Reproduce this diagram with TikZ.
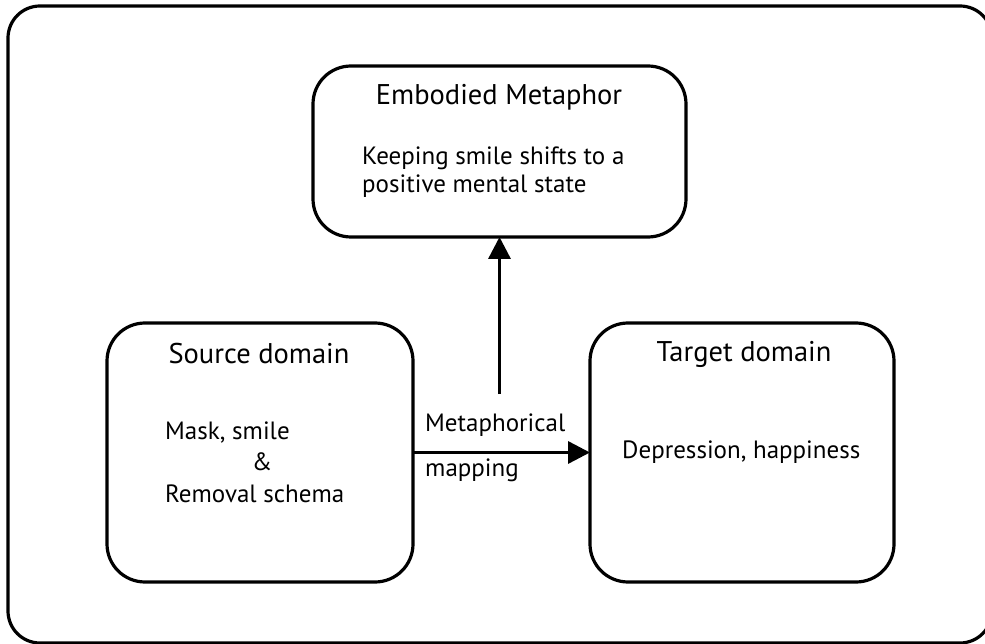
\documentclass[tikz,border=0pt]{standalone}
\usepackage{fontspec}
\setmainfont{PT Sans}
\usetikzlibrary{arrows.meta}
\begin{document}
\begin{tikzpicture}[x=1pt,y=-1pt,
  frame/.style={draw=black,line width=3.2pt,rounded corners=32pt},
  box/.style={draw=black,line width=3.2pt,rounded corners=38pt,
    inner sep=0pt,outer sep=0pt},
  title/.style={font=\fontsize{28.5}{33}\selectfont,inner sep=0pt},
  lbl/.style={font=\fontsize{25}{30}\selectfont,inner sep=0pt},
  link/.style={line width=3.4pt,-{Triangle[length=22pt,width=22pt]}}]
  \useasboundingbox (0,0) rectangle (985,644);
  \begin{scope}
    \clip (0,0) rectangle (985,644);
    \draw[frame] (8,6) rectangle (992,643);
  \end{scope}
  % the three boxes
  \node[box,minimum width=373pt,minimum height=171pt] (emb) at (499.5,151.5) {};
  \node[box,minimum width=306pt,minimum height=259pt] (src) at (260,452.5) {};
  \node[box,minimum width=304pt,minimum height=259pt] (tgt) at (742,452.5) {};
  \coordinate (upStart) at (emb.south |- 0,394);
  % box texts
  \node[title] (embT) at (499,97) {Embodied Metaphor};
  \node[lbl,anchor=west] (emb1) at (362,158) {Keeping smile shifts to a};
  \node[lbl,anchor=west] (emb2) at (362,186) {positive mental state};
  \node[title] (srcT) at (259,354) {Source domain};
  \node[lbl,anchor=west] (src1) at (165,433) {Mask, smile};
  \node[lbl] (src2) at (262,462) {\&};
  \node[lbl,anchor=west] (src3) at (165,494) {Removal schema};
  \node[title] (tgtT) at (744,354) {Target domain};
  \node[lbl,anchor=west] (tgt1) at (622,452) {Depression, happiness};
  \node[lbl,anchor=west] (map1) at (425,425) {Metaphorical};
  \node[lbl,anchor=west] (map2) at (425,470) {mapping};
  % connectors
  \draw[link] (src.east) -- (tgt.west);
  \draw[link] (upStart) -- (emb.south);
\end{tikzpicture}
\end{document}
